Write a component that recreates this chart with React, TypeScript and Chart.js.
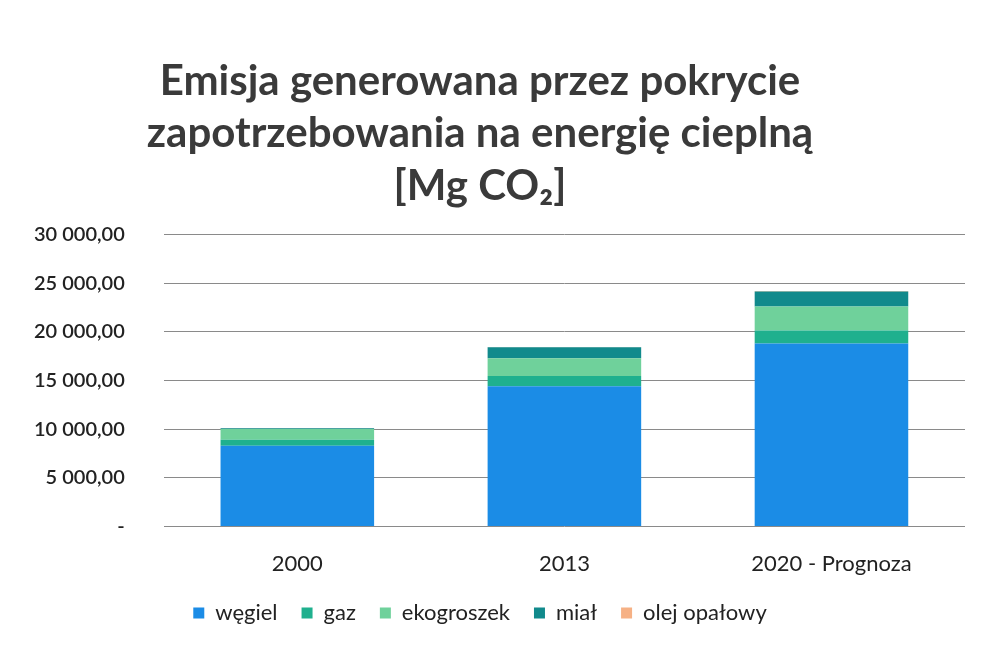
import React, { useEffect, useRef } from "react";
import { Chart, registerables } from "chart.js";

Chart.register(...registerables);

const categories = ["2000", "2013", "2020 - Prognoza"];
const wegiel = [8300, 14400, 18800];
const gaz = [600, 1060, 1340];
const ekogroszek = [1100, 1820, 2470];
const mial = [100, 1130, 1540];
const olejOpalowy = [20, 30, 40];
const yTicks = [0, 5000, 10000, 15000, 20000, 25000, 30000];

const fmt = (v: number) => {
  if (v === 0) return "-";
  const s = Math.round(v).toString().replace(/\B(?=(\d{3})+(?!\d))/g, " ");
  return s + ",00";
};

const FONT = "Lato, 'Open Sans', sans-serif";

export default function App() {
  const ref = useRef<HTMLCanvasElement | null>(null);
  useEffect(() => {
    if (!ref.current) return;
    const chart = new Chart(ref.current, {
      type: "bar",
      data: {
        labels: categories,
        datasets: [
          { label: "węgiel", data: wegiel, backgroundColor: "#1b8ce6" },
          { label: "gaz", data: gaz, backgroundColor: "#1fb08e" },
          { label: "ekogroszek", data: ekogroszek, backgroundColor: "#6fd19b" },
          { label: "miał", data: mial, backgroundColor: "#118a8c" },
          { label: "olej opałowy", data: olejOpalowy, backgroundColor: "#f6b185" },
        ],
      },
      options: {
        animation: false,
        responsive: true,
        maintainAspectRatio: false,
        layout: { padding: { left: -5, right: 22, top: 55, bottom: 22 } },
        datasets: { bar: { categoryPercentage: 1, barPercentage: 0.575 } },
        plugins: {
          title: {
            display: true,
            text: ["Emisja generowana przez pokrycie", "zapotrzebowania na energię cieplną", "[Mg CO₂]"],
            color: "#3a3a3a",
            font: { family: FONT, size: 42, weight: "bold", lineHeight: 1.25 },
            padding: { top: 0, bottom: 22 },
          },
          legend: {
            position: "bottom",
            title: { display: true, text: "", font: { size: 1 }, padding: { top: -8, bottom: -8 } },
            labels: {
              usePointStyle: true,
              pointStyle: "rect",
              boxWidth: 11,
              boxHeight: 11,
              padding: 24,
              color: "#222",
              font: { family: FONT, size: 22 },
            },
          },
          tooltip: { enabled: false },
        },
        scales: {
          x: {
            stacked: true,
            grid: { display: false },
            border: { display: false },
            ticks: {
              color: "#222",
              font: { family: FONT, size: 22 },
              padding: 16,
            },
          },
          y: {
            stacked: true,
            min: 0,
            max: 30000,
            afterBuildTicks: (axis: any) => {
              axis.ticks = yTicks.map((v) => ({ value: v }));
            },
            grid: { color: "#8a8a8a", lineWidth: 1, drawTicks: false },
            border: { display: false },
            ticks: {
              color: "#222",
              padding: 39,
              font: { family: FONT, size: 20, weight: "600" },
              callback: (v: any) => fmt(Number(v)),
            },
          },
        },
      },
    });
    return () => chart.destroy();
  }, []);
  return (
    <div style={{ position: "fixed", left: 0, top: 0, width: 987, height: 656, background: "#fff" }}>
      <canvas ref={ref} />
    </div>
  );
}
